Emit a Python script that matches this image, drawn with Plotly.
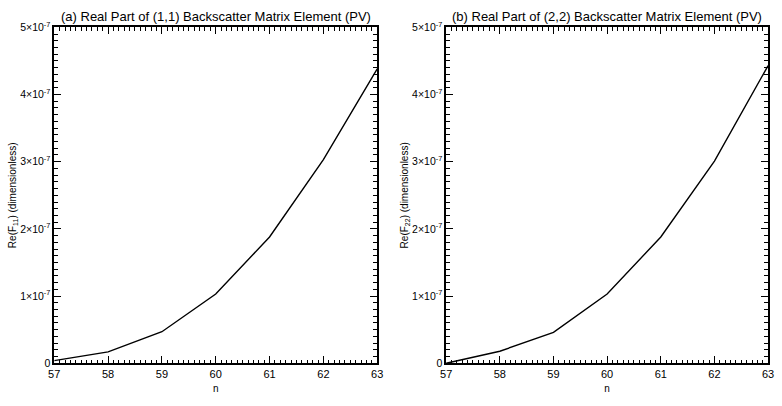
import plotly.graph_objects as go

n = [57, 58, 59, 60, 61, 62, 63]
re_f11 = [0.04e-7, 0.17e-7, 0.47e-7, 1.03e-7, 1.88e-7, 3.03e-7, 4.38e-7]
re_f22 = [0.00e-7, 0.18e-7, 0.46e-7, 1.03e-7, 1.88e-7, 3.01e-7, 4.43e-7]

titles = ["(a) Real Part of (1,1) Backscatter Matrix Element (PV)",
          "(b) Real Part of (2,2) Backscatter Matrix Element (PV)"]
ytitles = ["Re(F<sub>11</sub>) (dimensionless)", "Re(F<sub>22</sub>) (dimensionless)"]
x_major = [57, 58, 59, 60, 61, 62, 63]
y_major = [0, 1e-7, 2e-7, 3e-7, 4e-7, 5e-7]
y_major_text = ["0", "1×10<sup>-7</sup>", "2×10<sup>-7</sup>", "3×10<sup>-7</sup>",
                "4×10<sup>-7</sup>", "5×10<sup>-7</sup>"]

# all tick positions (minor every tenth), labels only on the major ones
x_all = [57 + k / 10 for k in range(61)]
x_all_text = [str(x_major[k // 10]) if k % 10 == 0 else "" for k in range(61)]
y_all = [k * 1e-8 for k in range(51)]
y_all_text = [y_major_text[k // 10] if k % 10 == 0 else "" for k in range(51)]

W, H = 782, 406
FONT = "Liberation Sans"
x_doms = [[49 / W, 377 / W], [447 / W, 774 / W]]
y_dom = [1 - 368 / H, 1 - 20 / H]
x_range = [57, 63]
y_range = [0, 5e-7]

fig = go.Figure()
series = [re_f11, re_f22]
for i in range(2):
    xa = "x" if i == 0 else "x2"
    ya = "y" if i == 0 else "y2"
    fig.add_trace(go.Scatter(x=n, y=series[i], mode="lines",
                             line=dict(color="black", width=1.4),
                             xaxis=xa, yaxis=ya, showlegend=False))
    fig.add_trace(go.Scatter(x=n, y=series[i], mode="lines", opacity=0,
                             line=dict(color="rgba(0,0,0,0)"), hoverinfo="skip",
                             xaxis="x" + str(i + 3), yaxis="y" + str(i + 3),
                             showlegend=False))

common = dict(showgrid=False, zeroline=False, showline=True, linecolor="black",
              linewidth=1.5, ticks="inside", mirror="allticks", tickcolor="black",
              tickwidth=1, ticklen=4)
major_common = dict(showgrid=False, zeroline=False, showline=False, ticks="inside",
                    mirror="allticks", tickcolor="black", tickwidth=1, ticklen=7,
                    showticklabels=False)

for i in range(2):
    sx = "" if i == 0 else "2"
    mx = str(i + 3)
    fig.update_layout(**{
        "xaxis" + sx: dict(domain=x_doms[i], range=x_range, tickmode="array",
                           tickvals=x_all, ticktext=x_all_text,
                           anchor="y" + sx,
                           tickfont=dict(family=FONT, size=11, color="black"),
                           title=dict(text="n", font=dict(family=FONT, size=10, color="black"),
                                      standoff=6),
                           **common),
        "yaxis" + sx: dict(domain=y_dom, range=y_range, tickmode="array",
                           tickvals=y_all, ticktext=y_all_text,
                           anchor="x" + sx,
                           tickfont=dict(family=FONT, size=10.5, color="black"),
                           title=dict(text=ytitles[i], font=dict(family=FONT, size=10, color="black"),
                                      standoff=2),
                           **common),
        "xaxis" + mx: dict(domain=x_doms[i], range=x_range, tickmode="array",
                           tickvals=x_major, anchor="y" + mx,
                           overlaying="x" + sx, side="bottom", **major_common),
        "yaxis" + mx: dict(domain=y_dom, range=y_range, tickmode="array",
                           tickvals=y_major, anchor="x" + mx,
                           overlaying="y" + sx, side="left", **major_common),
    })
    fig.add_annotation(text=titles[i], xref="paper", yref="paper",
                       x=(x_doms[i][0] + x_doms[i][1]) / 2, y=1 - 9 / H,
                       showarrow=False, xanchor="center", yanchor="middle",
                       font=dict(family=FONT, size=13, color="black"))

fig.update_layout(width=W, height=H, margin=dict(l=0, r=0, t=0, b=0),
                  plot_bgcolor="white", paper_bgcolor="white")

fig.write_html("out.html")
